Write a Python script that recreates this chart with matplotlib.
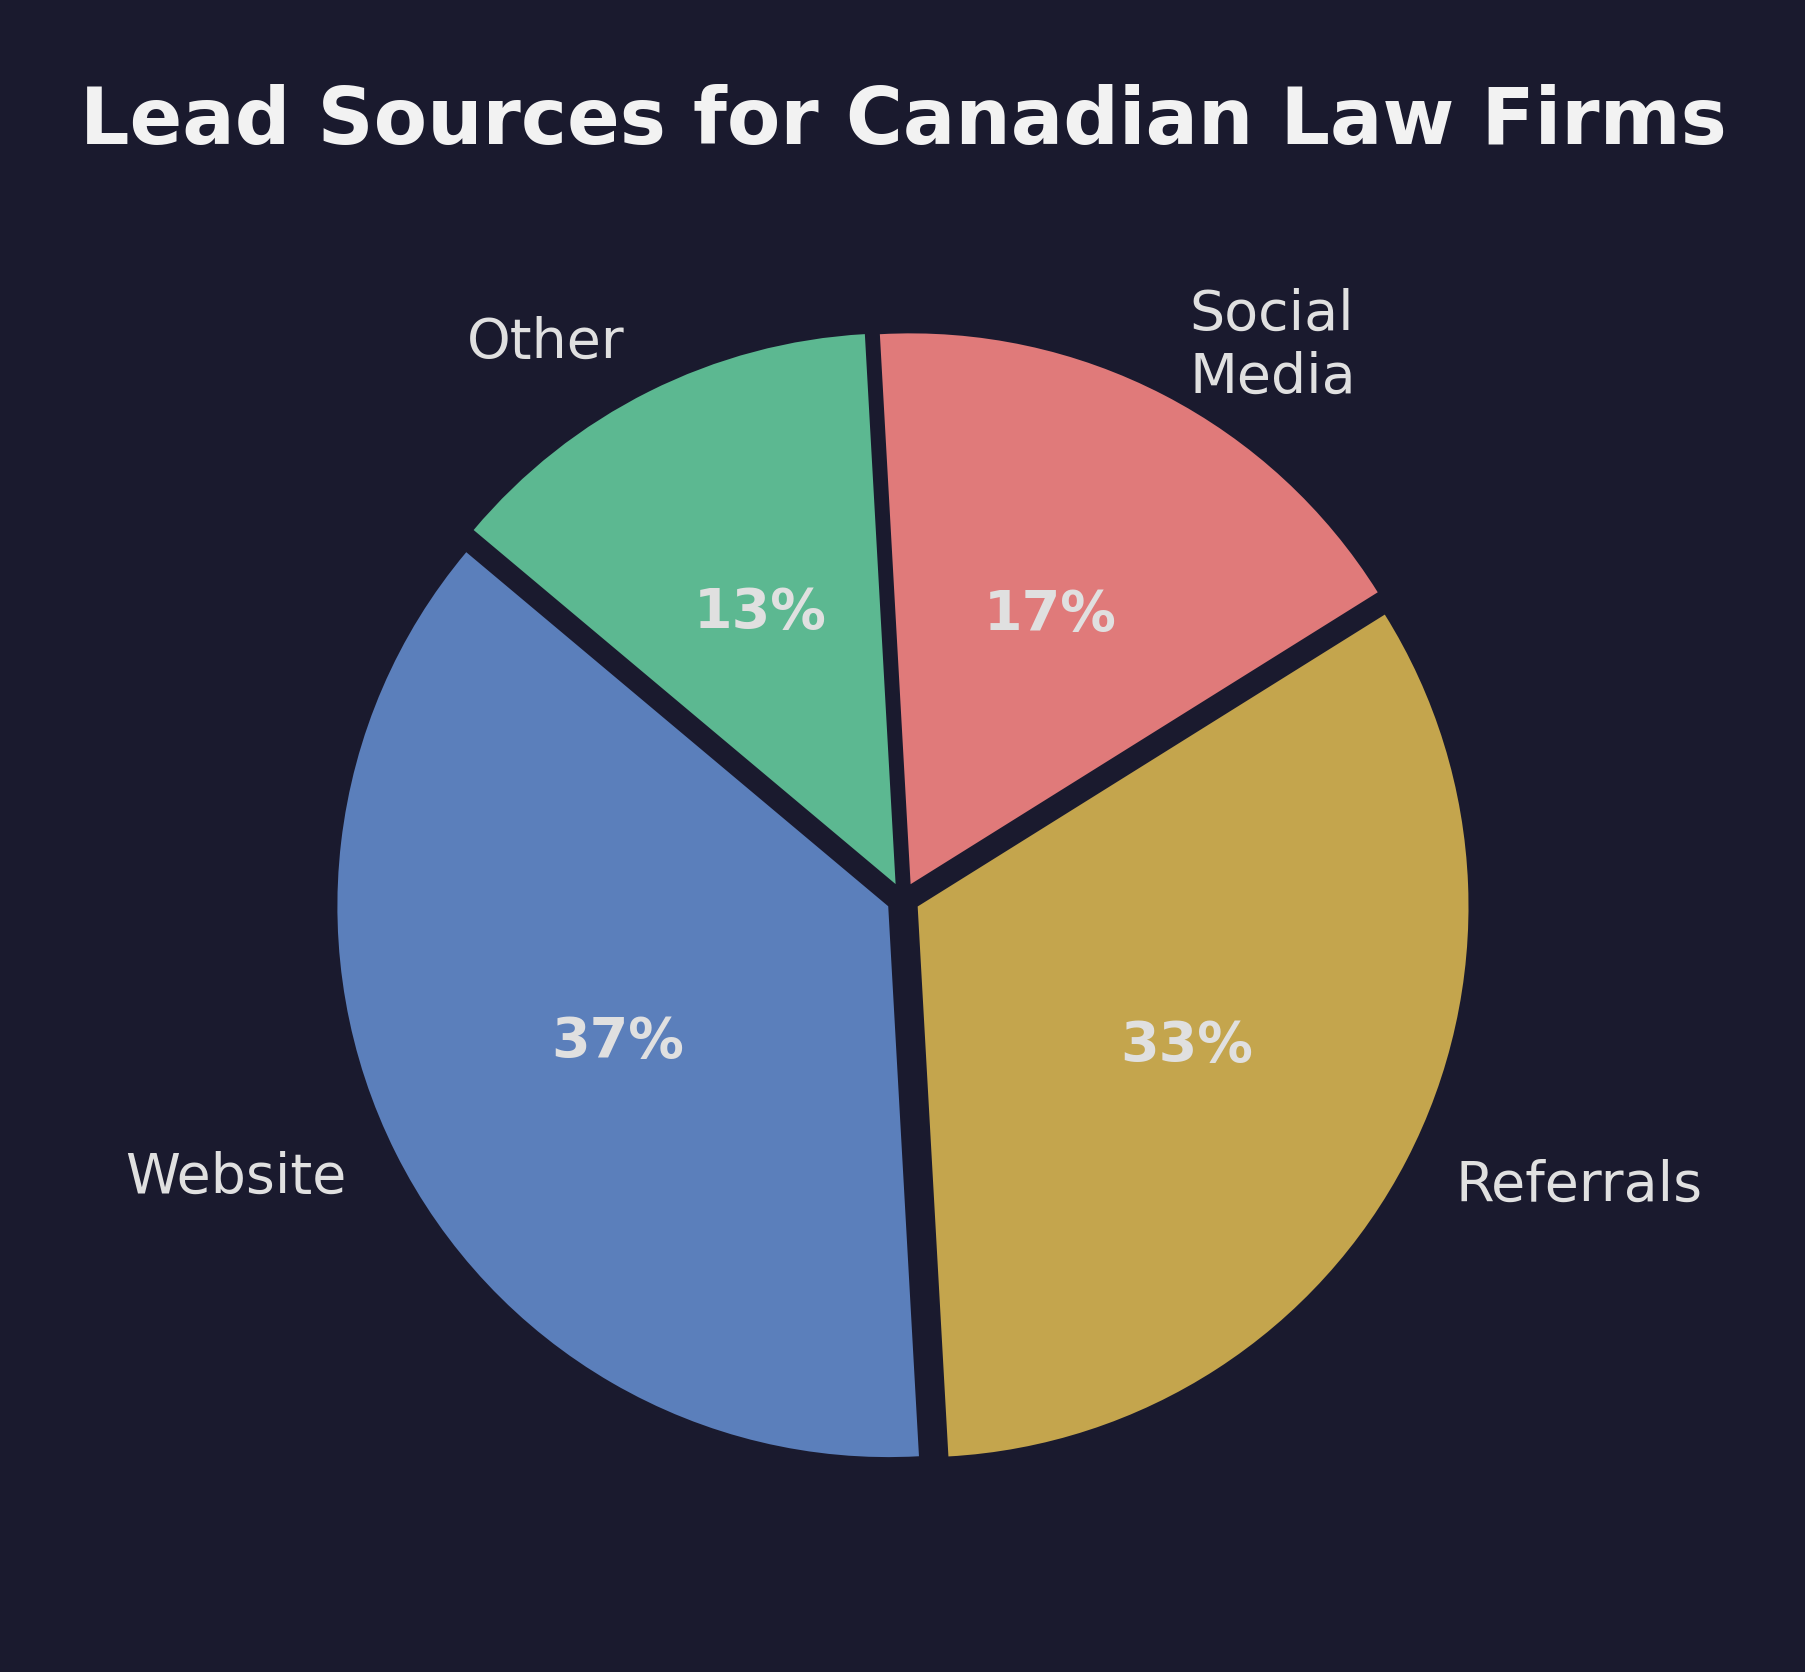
import matplotlib
matplotlib.use("Agg")
import matplotlib.pyplot as plt

categories = ["Website", "Referrals", "Social\nMedia", "Other"]
values = [37, 33, 17, 13]
colors = ["#5B7FBB", "#C4A54D", "#E07A7A", "#5CB891"]
bg = "#1A1A2E"
txt = "#E0E0E0"

fig = plt.figure(figsize=(9.03, 8.36), dpi=200, facecolor=bg)
ax = fig.add_axes([0.11875, 0.0505, 0.7625, 0.8238])
ax.set_facecolor(bg)

wedges, texts, autotexts = ax.pie(
    values, labels=categories, colors=colors, startangle=140,
    explode=[0.03] * 4, autopct="%1.0f%%", pctdistance=0.55,
    labeldistance=1.1,
    textprops={"color": txt, "fontsize": 20},
)
for t in autotexts:
    t.set_fontweight("bold")
    t.set_color(txt)
ax.set_aspect("equal")
ax.set_xlim(-1.25, 1.25)
ax.set_ylim(-1.25, 1.25)

fig.text(0.5, 0.9139, "Lead Sources for Canadian Law Firms", ha="center",
         va="baseline", fontsize=28, fontweight="bold", color="#F2F2F2")

fig.savefig("out.png", dpi=200, facecolor=bg)
